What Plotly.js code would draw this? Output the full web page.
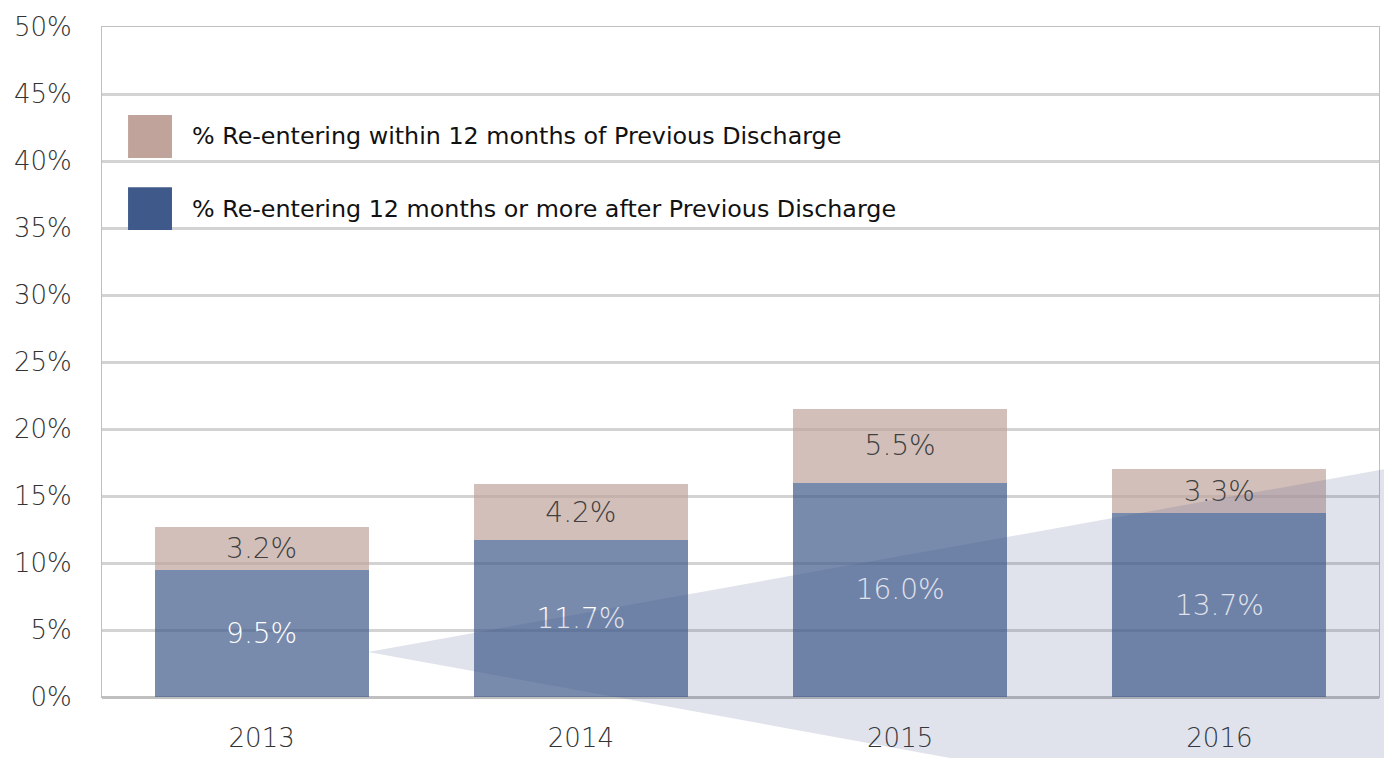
<!DOCTYPE html>
<html>
<head>
<meta charset="utf-8">
<script src="https://cdn.plot.ly/plotly-3.0.1.min.js"></script>
<style>
html,body{margin:0;padding:0;background:#fff;}
#chart{width:1384px;height:758px;}
</style>
</head>
<body>
<div id="chart"></div>
<script>
const years = ['2013', '2014', '2015', '2016'];
const after12 = [9.5, 11.7, 16.0, 13.7];
const within12 = [3.2, 4.2, 5.5, 3.3];
const seriesNames = ['% Re-entering within 12 months of Previous Discharge',
                     '% Re-entering 12 months or more after Previous Discharge'];
const yTicks = [0, 5, 10, 15, 20, 25, 30, 35, 40, 45, 50];
const yTickText = yTicks.map(v => v + '%');

const blue = '#3f5a8a';
const tan = '#c0a49b';
const FONT = '"DejaVu Sans", "Noto Sans", sans-serif';

const traces = [
  {
    type: 'bar', x: years, y: after12, name: seriesNames[1],
    marker: {color: blue, opacity: 0.7},
    text: after12.map(v => v.toFixed(1) + '%'),
    textposition: 'inside', insidetextanchor: 'middle',
    textfont: {color: '#ffffff', size: 28, family: FONT, weight: 200},
    hoverinfo: 'x+y', showlegend: false
  },
  {
    type: 'bar', x: years, y: within12, name: seriesNames[0],
    marker: {color: tan, opacity: 0.7},
    text: within12.map(v => v.toFixed(1) + '%'),
    textposition: 'inside', insidetextanchor: 'middle',
    textfont: {color: '#404040', size: 28, family: FONT, weight: 200},
    hoverinfo: 'x+y', showlegend: false
  }
];

// legend (manual, large swatches)
const legendItems = [
  {name: seriesNames[0], color: tan, y0: 0.8045, y1: 0.8687},
  {name: seriesNames[1], color: blue, y0: 0.697, y1: 0.761}
];
const shapes = [];
const annotations = [];
legendItems.forEach(it => {
  shapes.push({type: 'rect', xref: 'paper', yref: 'paper', x0: 0.0204, x1: 0.0548,
    y0: it.y0, y1: it.y1, fillcolor: it.color, line: {width: 0}, layer: 'above'});
  annotations.push({xref: 'paper', yref: 'paper', x: 0.0689, y: (it.y0 + it.y1) / 2,
    xanchor: 'left', yanchor: 'middle', showarrow: false, text: it.name,
    font: {family: FONT, size: 23.8, color: '#111111'}});
});
// decorative translucent wedge
shapes.push({type: 'path', xref: 'paper', yref: 'paper',
  path: 'M 0.2083 0.0672 L 1.0039 0.340 L 1.0039 -0.209 Z',
  fillcolor: 'rgba(63,82,138,0.16)', line: {width: 0}, layer: 'above'});

const layout = {
  width: 1384, height: 758,
  margin: {l: 102, r: 5, t: 27, b: 61},
  paper_bgcolor: '#ffffff', plot_bgcolor: '#ffffff',
  barmode: 'stack', bargap: 0.33,
  showlegend: false,
  font: {family: FONT, color: '#404040'},
  xaxis: {
    type: 'category', showgrid: false, ticks: '', ticklabelstandoff: 18,
    tickfont: {size: 26, color: '#333333', family: FONT, weight: 200},
    showline: true, linecolor: '#bfbfbf', linewidth: 1, mirror: true, zeroline: false
  },
  yaxis: {
    range: [0, 50], tickvals: yTicks, ticktext: yTickText,
    tickfont: {size: 26, color: '#333333', family: FONT, weight: 200}, ticks: '', ticklabelstandoff: 24,
    showgrid: true, gridcolor: '#d3d3d3', gridwidth: 3,
    zeroline: true, zerolinecolor: '#c0c0c0', zerolinewidth: 3,
    showline: true, linecolor: '#bfbfbf', linewidth: 1, mirror: true
  },
  shapes: shapes,
  annotations: annotations
};

Plotly.newPlot('chart', traces, layout, {displayModeBar: false, staticPlot: true});
</script>
</body>
</html>
